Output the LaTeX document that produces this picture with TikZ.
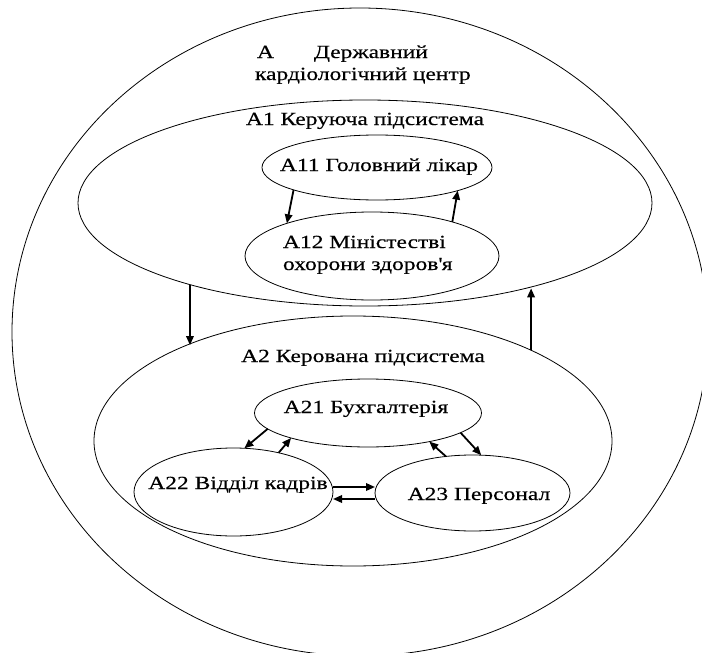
\documentclass[tikz,border=0pt]{standalone}
\usepackage{fontspec}
\setmainfont{Liberation Serif}[FakeStretch=1.27,FakeBold=0.4]
\usetikzlibrary{shapes.geometric,arrows.meta}
\begin{document}
\begin{tikzpicture}[x=1pt,y=-1pt,
  ell/.style={draw, ellipse, inner sep=0pt, outer sep=0pt, line width=0.8pt},
  lbl/.style={inner sep=0pt, outer sep=0pt, font=\fontsize{18.5}{22}\selectfont},
  arr/.style={line width=1.8pt, -{Triangle[length=9pt,width=7.5pt]}}]
\useasboundingbox (0,0) rectangle (702,653);
% ellipses
\node[ell, minimum width=696pt, minimum height=648pt] (A) at (360,332) {};
\node[ell, minimum width=574pt, minimum height=206pt] (A1) at (365,203) {};
\node[ell, minimum width=230pt, minimum height=65pt] (A11) at (377,167.5) {};
\node[ell, minimum width=254pt, minimum height=88pt] (A12) at (372,256) {};
\node[ell, minimum width=518pt, minimum height=250pt] (A2) at (353,441) {};
\node[ell, minimum width=227pt, minimum height=68pt] (A21) at (368,413) {};
\node[ell, minimum width=199pt, minimum height=88pt] (A22) at (233.5,492) {};
\node[ell, minimum width=195pt, minimum height=76pt] (A23) at (472.5,493) {};
% labels
\node[lbl, anchor=base west] (At1) at (257,58) {А\hspace{40pt}Державний};
\node[lbl, anchor=base west] (At2) at (255,80) {кардіологічний центр};
\node[lbl, anchor=base] (A1t) at (365,125) {А1 Керуюча підсистема};
\node[lbl, anchor=base] (A11t) at (379,171) {А11 Головний лікар};
\node[lbl, anchor=base west] (A12t1) at (283,248) {А12 Міністестві};
\node[lbl, anchor=base west] (A12t2) at (283,270) {охорони здоров\textquotesingle я};
\node[lbl, anchor=base] (A2t) at (363,362) {А2 Керована підсистема};
\node[lbl, anchor=base] (A21t) at (366,413) {А21 Бухгалтерія};
\node[lbl, anchor=base] (A22t) at (238,489) {А22 Відділ кадрів};
\node[lbl, anchor=base] (A23t) at (479,500) {А23 Персонал};
% arrows inside A1
\draw[arr] (A11.195.6) -- (A12.159.9);
\draw[arr] (A12.23.5) -- (A11.-16);
% arrows between A1 and A2
\draw[arr] (A1.205) -- (A1.205 |- A2.150);
\draw[arr] (A2.27.6) -- (A2.27.6 |- A1.-28.2);
% arrows inside A2
\draw[arr] (A21.189.8) -- (A22.76);
\draw[arr] (A22.41) -- (A21.198.9);
\draw[arr] (A23.126.6) -- (A21.-25);
\draw[arr] (A21.-12.7) -- (A23.77);
\draw[arr] ([yshift=5pt]A22.east) -- ([yshift=5pt]A22.east -| A23.west);
\draw[arr] ([yshift=-6pt]A23.west) -- ([yshift=-6pt]A23.west -| A22.east);
\end{tikzpicture}
\end{document}
